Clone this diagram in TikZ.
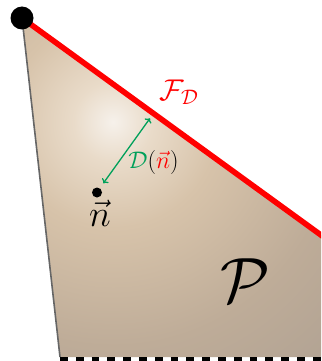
\RequirePackage{fix-cm}
\documentclass[tikz,border=0pt]{standalone}
\usetikzlibrary{arrows.meta}
\definecolor{redline}{RGB}{255,0,0}
\definecolor{greenarr}{RGB}{0,160,90}
\definecolor{c0}{RGB}{246,241,235}
\definecolor{c1}{RGB}{233,219,201}
\definecolor{c2}{RGB}{215,195,170}
\definecolor{c3}{RGB}{190,172,152}
\definecolor{c4}{RGB}{168,156,144}
\definecolor{c5}{RGB}{150,145,140}
\pgfdeclareradialshading{polyshade}{\pgfpoint{0bp}{0bp}}{color(0bp)=(c0); color(3bp)=(c1); color(8bp)=(c2); color(17bp)=(c3); color(30bp)=(c4); color(50bp)=(c5)}
\tikzset{
  vertexdot/.style={circle,fill=black,inner sep=0pt,minimum size=23pt},
  pointdot/.style={circle,fill=black,inner sep=0pt,minimum size=10pt},
  faceline/.style={draw=redline,line width=5.6pt},
  leftedge/.style={draw=black!60,line width=1.6pt},
  bottomedge/.style={draw=black,line width=4.5pt,dash pattern=on 7.8pt off 8pt},
  distarrow/.style={draw=greenarr,line width=1.3pt,{To[length=4pt,width=8pt]}-{To[length=4pt,width=8pt]}},
  lbl/.style={inner sep=0pt}
}
\begin{document}
\begin{tikzpicture}[x=1pt,y=-1pt]
\useasboundingbox (0,0) rectangle (321,361);
\coordinate (A) at (22,18);
\coordinate (B) at (345,252.5);
\coordinate (C) at (345,357);
\coordinate (D) at (60,357);
\coordinate (D2) at (60,359.2);
\coordinate (C2) at (345,359.2);
\begin{scope}
  \clip (0,0) rectangle (321,361);
  \begin{scope}
    \clip (A)--(B)--(C)--(D)--cycle;
    \shade[shading=polyshade] (113,122) circle[radius=330pt];
  \end{scope}
  \draw[leftedge] (A)--(D);
  \draw[bottomedge] (D2)--(C2);
  \draw[faceline] (A)--(B);
\end{scope}
\node[vertexdot] (vtx) at (22,18) {};
\node[pointdot] (ndot) at (97,192.5) {};
\coordinate (p1) at (103.3,183.3);
\coordinate (p2) at (150,118.3);
\draw[distarrow] (p1)--(p2);
\node[lbl,text=redline,font=\fontsize{30}{36}\selectfont] (fd) at (179,92) {$\mathcal{F}_{\mathcal{D}}$};
\node[lbl,font=\fontsize{24}{28}\selectfont] (dn) at (153.5,162) {$\textcolor{greenarr}{\mathcal{D}}(\textcolor{redline}{\vec{n}})$};
\node[lbl,font=\fontsize{37}{42}\selectfont] (nl) at (100,213) {$\vec{n}$};
\node[lbl,font=\fontsize{64}{72}\selectfont] (pl) at (245,281) {$\mathcal{P}$};
\end{tikzpicture}
\end{document}
